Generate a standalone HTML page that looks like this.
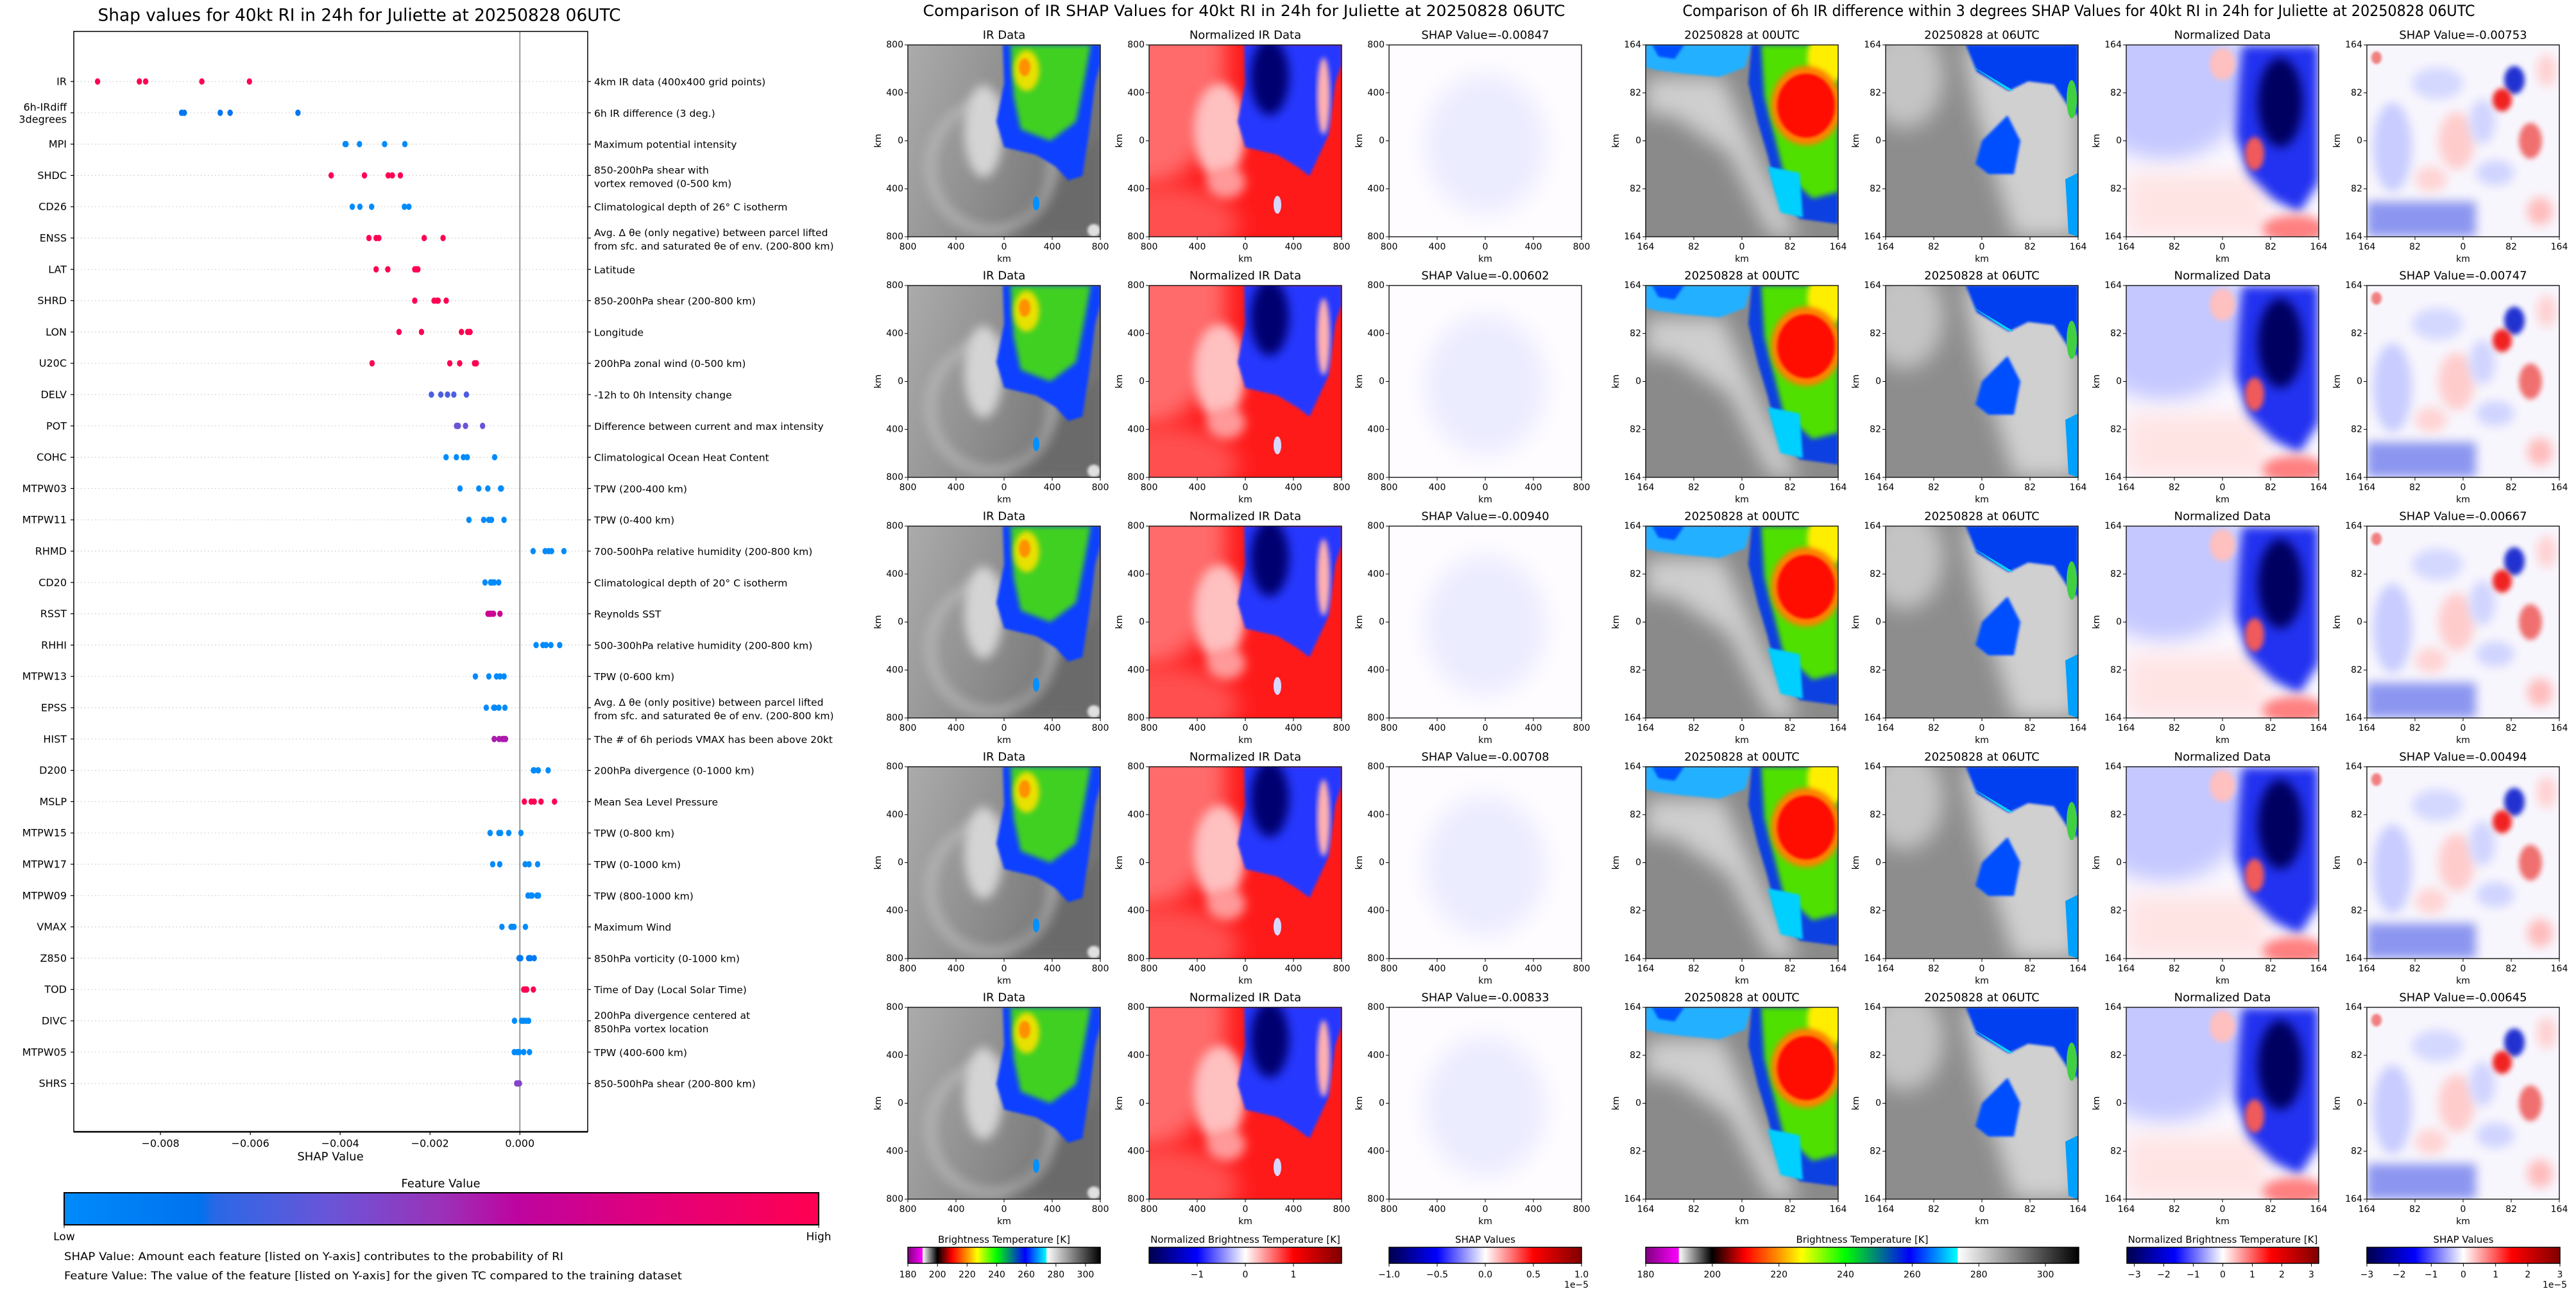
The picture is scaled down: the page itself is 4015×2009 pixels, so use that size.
<!DOCTYPE html>
<html><head><meta charset="utf-8">
<style>
body{margin:0;background:#fff}
svg{display:block;font-family:"DejaVu Sans","Liberation Sans",sans-serif}
</style></head>
<body>
<svg id="fig" width="4015" height="2009" viewBox="0 0 4015 2009" xmlns="http://www.w3.org/2000/svg">
<defs>
  <filter id="b2" x="-20%" y="-20%" width="140%" height="140%"><feGaussianBlur stdDeviation="2"/></filter>
  <filter id="b4" x="-20%" y="-20%" width="140%" height="140%"><feGaussianBlur stdDeviation="4"/></filter>
  <filter id="b8" x="-30%" y="-30%" width="160%" height="160%"><feGaussianBlur stdDeviation="8"/></filter>
  <filter id="b16" x="-50%" y="-50%" width="200%" height="200%"><feGaussianBlur stdDeviation="16"/></filter>
  <linearGradient id="gShapCmap" x1="0" x2="1" y1="0" y2="0">
    <stop offset="0" stop-color="#008bfb"/><stop offset="0.18" stop-color="#0072ee"/>
    <stop offset="0.2" stop-color="#2a68e6"/><stop offset="0.35" stop-color="#6a55d8"/>
    <stop offset="0.5" stop-color="#9a32b8"/><stop offset="0.6" stop-color="#be04a0"/>
    <stop offset="0.78" stop-color="#e2007a"/><stop offset="1" stop-color="#ff0052"/>
  </linearGradient>
  <linearGradient id="gBT" x1="0" x2="1" y1="0" y2="0">
    <stop offset="0" stop-color="#800080"/><stop offset="0.076" stop-color="#ff00ff"/>
    <stop offset="0.077" stop-color="#ffffff"/><stop offset="0.153" stop-color="#000000"/>
    <stop offset="0.23" stop-color="#ff0000"/><stop offset="0.31" stop-color="#ff9900"/>
    <stop offset="0.36" stop-color="#ffff00"/><stop offset="0.46" stop-color="#00ff00"/>
    <stop offset="0.61" stop-color="#0000ff"/><stop offset="0.72" stop-color="#00ffff"/>
    <stop offset="0.721" stop-color="#ffffff"/><stop offset="1" stop-color="#000000"/>
  </linearGradient>
  <linearGradient id="gSeis" x1="0" x2="1" y1="0" y2="0">
    <stop offset="0" stop-color="#00004c"/><stop offset="0.25" stop-color="#0000ff"/>
    <stop offset="0.5" stop-color="#ffffff"/><stop offset="0.75" stop-color="#ff0000"/>
    <stop offset="1" stop-color="#800000"/>
  </linearGradient>
  <linearGradient id="gIRbg" x1="0" x2="1" y1="0" y2="0.3">
    <stop offset="0" stop-color="#ababab"/><stop offset="0.5" stop-color="#909090"/><stop offset="1" stop-color="#747474"/>
  </linearGradient>

  <symbol id="img-ir" viewBox="0 0 300 300" preserveAspectRatio="none">
    <rect width="300" height="300" fill="url(#gIRbg)"/>
    <polygon points="150,300 300,140 300,300" fill="#6a6a6a" filter="url(#b8)"/>
    <ellipse cx="130" cy="190" rx="95" ry="100" fill="none" stroke="#c4c4c4" stroke-width="18" opacity="0.5" filter="url(#b8)"/>
    <ellipse cx="118" cy="135" rx="30" ry="72" fill="#d4d4d4" filter="url(#b8)"/>
    <polygon points="148,0 300,0 300,30 292,60 282,140 272,205 250,212 230,190 200,172 150,160 138,120 150,60" fill="#1040ff" filter="url(#b2)"/>
    <polygon points="160,0 285,0 276,50 262,120 222,150 176,132 165,80" fill="#40d020" filter="url(#b4)"/>
    <ellipse cx="185" cy="40" rx="20" ry="32" fill="#e8e000" filter="url(#b4)"/>
    <ellipse cx="182" cy="35" rx="9" ry="14" fill="#ff9000" filter="url(#b2)"/>
    <ellipse cx="200" cy="248" rx="5" ry="11" fill="#0090ff"/>
    <ellipse cx="290" cy="290" rx="10" ry="10" fill="#e0e0e0" filter="url(#b2)"/>
  </symbol>

  <symbol id="img-norm" viewBox="0 0 300 300" preserveAspectRatio="none">
    <rect width="300" height="300" fill="#ff1a1a"/>
    <ellipse cx="0" cy="20" rx="120" ry="200" fill="#ff6a6a" filter="url(#b16)"/>
    <ellipse cx="20" cy="280" rx="120" ry="60" fill="#ff5050" filter="url(#b16)"/>
    <ellipse cx="110" cy="135" rx="40" ry="75" fill="#ffc0c0" filter="url(#b8)"/>
    <ellipse cx="120" cy="215" rx="30" ry="25" fill="#ff9a9a" filter="url(#b8)"/>
    <polygon points="148,0 300,0 300,30 290,60 280,140 250,205 230,190 200,172 150,160 138,120 150,60" fill="#2838ff" filter="url(#b2)"/>
    <ellipse cx="188" cy="50" rx="30" ry="60" fill="#000070" filter="url(#b8)"/>
    <ellipse cx="272" cy="80" rx="10" ry="60" fill="#ffb0b0" filter="url(#b4)"/>
    <ellipse cx="200" cy="250" rx="6" ry="14" fill="#d8d8ff"/>
  </symbol>

  <symbol id="img-shap" viewBox="0 0 300 300" preserveAspectRatio="none">
    <rect width="300" height="300" fill="#fefcff"/>
    <ellipse cx="150" cy="155" rx="95" ry="110" fill="#ececff" filter="url(#b16)"/>
  </symbol>

  <symbol id="img-d00" viewBox="0 0 300 300" preserveAspectRatio="none">
    <rect width="300" height="300" fill="#8a8a8a"/>
    <polygon points="0,50 120,50 185,200 240,300 195,300 130,170 40,110 0,110" fill="#cfcfcf" filter="url(#b16)"/>
    <polygon points="0,0 165,0 155,35 115,50 60,45 20,40 0,35" fill="#20b0ff" filter="url(#b2)"/>
    <polygon points="10,0 60,0 45,22 20,18" fill="#0050ff" filter="url(#b2)"/>
    <polygon points="165,0 300,0 300,280 240,272 205,232 190,172 175,122 160,60" fill="#1040e0" filter="url(#b2)"/>
    <polygon points="180,0 300,0 300,230 260,240 215,200 200,140 185,80" fill="#50e000" filter="url(#b4)"/>
    <polygon points="190,190 240,200 245,270 210,262" fill="#00d0ff" filter="url(#b2)"/>
    <ellipse cx="282" cy="20" rx="30" ry="42" fill="#ffee00" filter="url(#b4)"/>
    <ellipse cx="250" cy="95" rx="55" ry="62" fill="#ff8000" filter="url(#b4)"/>
    <ellipse cx="250" cy="95" rx="45" ry="50" fill="#ff1000" filter="url(#b2)"/>
  </symbol>

  <symbol id="img-d06" viewBox="0 0 300 300" preserveAspectRatio="none">
    <rect width="300" height="300" fill="#8d8d8d"/>
    <polygon points="120,0 300,0 300,300 200,300 170,200 140,100" fill="#d0d0d0" filter="url(#b16)"/>
    <ellipse cx="30" cy="50" rx="60" ry="80" fill="#c4c4c4" filter="url(#b16)"/>
    <polygon points="125,0 300,0 300,112 282,92 262,62 222,57 192,72 142,42" fill="#0040f0" filter="url(#b2)"/>
    <polygon points="130,30 190,70 200,72 180,60" fill="#00e0ff"/>
    <ellipse cx="290" cy="85" rx="8" ry="30" fill="#40d040"/>
    <polygon points="150,150 190,110 210,150 200,202 160,202 140,186" fill="#0050ff" filter="url(#b2)"/>
    <polygon points="280,210 300,200 300,300 285,295" fill="#00a0ff"/>
  </symbol>

  <symbol id="img-n" viewBox="0 0 300 300" preserveAspectRatio="none">
    <rect width="300" height="300" fill="#fbf8ff"/>
    <ellipse cx="60" cy="60" rx="130" ry="120" fill="#c4c8ff" filter="url(#b16)"/>
    <rect x="0" y="200" width="220" height="100" fill="#ffe4e4" filter="url(#b16)"/>
    <polygon points="180,0 300,0 300,215 270,262 230,242 190,202 170,142 175,60" fill="#2030f0" filter="url(#b8)"/>
    <ellipse cx="240" cy="90" rx="35" ry="70" fill="#000060" filter="url(#b8)"/>
    <ellipse cx="200" cy="170" rx="15" ry="26" fill="#f05a5a" filter="url(#b4)"/>
    <ellipse cx="262" cy="288" rx="50" ry="22" fill="#ff8080" filter="url(#b8)"/>
    <ellipse cx="150" cy="30" rx="20" ry="25" fill="#ffc0c0" filter="url(#b4)"/>
  </symbol>

  <symbol id="img-s" viewBox="0 0 300 300" preserveAspectRatio="none">
    <rect width="300" height="300" fill="#f8f6fd"/>
    <rect x="0" y="245" width="170" height="55" fill="#8c96f0" filter="url(#b8)"/>
    <ellipse cx="40" cy="160" rx="30" ry="70" fill="#c8ccff" filter="url(#b8)"/>
    <ellipse cx="110" cy="60" rx="40" ry="25" fill="#d4d8ff" filter="url(#b8)"/>
    <ellipse cx="140" cy="150" rx="28" ry="45" fill="#ffcccc" filter="url(#b8)"/>
    <ellipse cx="100" cy="210" rx="25" ry="20" fill="#ffd4d4" filter="url(#b8)"/>
    <ellipse cx="180" cy="120" rx="20" ry="35" fill="#d0d4ff" filter="url(#b8)"/>
    <ellipse cx="230" cy="55" rx="16" ry="22" fill="#2030d0" filter="url(#b4)"/>
    <ellipse cx="211" cy="86" rx="15" ry="18" fill="#f02020" filter="url(#b4)"/>
    <ellipse cx="255" cy="150" rx="18" ry="28" fill="#f07070" filter="url(#b4)"/>
    <ellipse cx="200" cy="200" rx="30" ry="20" fill="#d0d4ff" filter="url(#b8)"/>
    <ellipse cx="270" cy="260" rx="20" ry="22" fill="#ffbcbc" filter="url(#b8)"/>
    <ellipse cx="280" cy="40" rx="15" ry="25" fill="#ffd0d0" filter="url(#b8)"/>
    <ellipse cx="15" cy="20" rx="8" ry="10" fill="#f08080" filter="url(#b2)"/>
  </symbol>
</defs>
</svg>
<script>
// ---------- beeswarm data ----------
const features = ["IR","6h-IRdiff\n3degrees","MPI","SHDC","CD26","ENSS","LAT","SHRD","LON","U20C","DELV","POT","COHC","MTPW03","MTPW11","RHMD","CD20","RSST","RHHI","MTPW13","EPSS","HIST","D200","MSLP","MTPW15","MTPW17","MTPW09","VMAX","Z850","TOD","DIVC","MTPW05","SHRS"];
const descriptions = ["4km IR data (400x400 grid points)","6h IR difference (3 deg.)","Maximum potential intensity","850-200hPa shear with\nvortex removed (0-500 km)","Climatological depth of 26° C isotherm","Avg. Δ θe (only negative) between parcel lifted\nfrom sfc. and saturated θe of env. (200-800 km)","Latitude","850-200hPa shear (200-800 km)","Longitude","200hPa zonal wind (0-500 km)","-12h to 0h Intensity change","Difference between current and max intensity","Climatological Ocean Heat Content","TPW (200-400 km)","TPW (0-400 km)","700-500hPa relative humidity (200-800 km)","Climatological depth of 20° C isotherm","Reynolds SST","500-300hPa relative humidity (200-800 km)","TPW (0-600 km)","Avg. Δ θe (only positive) between parcel lifted\nfrom sfc. and saturated θe of env. (200-800 km)","The # of 6h periods VMAX has been above 20kt","200hPa divergence (0-1000 km)","Mean Sea Level Pressure","TPW (0-800 km)","TPW (0-1000 km)","TPW (800-1000 km)","Maximum Wind","850hPa vorticity (0-1000 km)","Time of Day (Local Solar Time)","200hPa divergence centered at\n850hPa vortex location","TPW (400-600 km)","850-500hPa shear (200-800 km)"];
const featureValue = [1,0.15,0,1,0,1,1,1,1,1,0.28,0.36,0,0,0,0,0,0.66,0,0,0,0.55,0,1,0,0,0,0,0.12,1,0,0,0.42];
const irShap = [-0.00847,-0.00602,-0.00940,-0.00708,-0.00833];
const diffShap = [-0.00753,-0.00747,-0.00667,-0.00494,-0.00645];
const shapVals = [
  irShap, diffShap,
  [-0.00389,-0.00387,-0.00357,-0.00301,-0.00256],
  [-0.0042,-0.00346,-0.00293,-0.00284,-0.00266],
  [-0.00373,-0.00356,-0.0033,-0.00257,-0.00247],
  [-0.00336,-0.0032,-0.00314,-0.00213,-0.00171],
  [-0.0032,-0.00294,-0.00234,-0.0023,-0.00227],
  [-0.00234,-0.00191,-0.00184,-0.00182,-0.00164],
  [-0.00269,-0.00219,-0.0013,-0.00116,-0.00111],
  [-0.00329,-0.00156,-0.00134,-0.00101,-0.00097],
  [-0.00197,-0.00176,-0.00161,-0.00147,-0.00119],
  [-0.00141,-0.00139,-0.00137,-0.00121,-0.00083],
  [-0.001643,-0.001414,-0.001257,-0.001171,-0.000562],
  [-0.001333,-0.000914,-0.000714,-0.000429,-0.000414],
  [-0.001133,-0.000805,-0.00069,-0.000633,-0.000352],
  [0.000295,0.000562,0.000638,0.000705,0.000981],
  [-0.000776,-0.000652,-0.000619,-0.000571,-0.000471],
  [-0.00071,-0.000667,-0.000633,-0.000586,-0.000443],
  [0.000362,0.000514,0.000581,0.00069,0.000886],
  [-0.00099,-0.00069,-0.000519,-0.000443,-0.000352],
  [-0.000748,-0.000581,-0.000557,-0.000467,-0.000333],
  [-0.000571,-0.000462,-0.000386,-0.000352,-0.000319],
  [0.0003,0.000319,0.000405,0.00041,0.000629],
  [0.0001,0.000252,0.000319,0.000471,0.000771],
  [-0.000662,-0.000467,-0.000429,-0.000248,0.000024],
  [-0.000605,-0.000448,0.000119,0.000205,0.000395],
  [0.000181,0.000248,0.000271,0.000381,0.000414],
  [-0.0004,-0.000195,-0.00017,-0.000129,0.000124],
  [-0.000019,0.000019,0.000195,0.000233,0.000319],
  [0.000086,0.00011,0.000133,0.000152,0.0003],
  [-0.000119,0.000038,0.000086,0.000143,0.000195],
  [-0.000124,-0.000057,-0.000014,0.000086,0.000214],
  [-0.000071,-0.000048,-0.000038,-0.000024,-0.00001]
];
const xTicks = [-0.008,-0.006,-0.004,-0.002,0.000];
const xDomain = [-0.00993, 0.00151];
// ---------- image panel data ----------
const kmTicksIR = ["800","400","0","400","800"];
const kmTicksDiff = ["164","82","0","82","164"];
const btTicks = [180,200,220,240,260,280,300];
const btRange = [180,310];
const normTicksIR = [-1,0,1];
const normRangeIR = [-2,2];
const shapTicksIR = ["-1.0","-0.5","0.0","0.5","1.0"];
const normTicksDiff = [-3,-2,-1,0,1,2,3];
const normRangeDiff = [-3.25,3.25];
const shapTicksDiff = [-3,-2,-1,0,1,2,3];

const NS = "http://www.w3.org/2000/svg";
const fig = document.getElementById("fig");
function el(tag, attrs, parent){
  const e = document.createElementNS(NS, tag);
  for (const k in attrs) e.setAttribute(k, attrs[k]);
  (parent||fig).appendChild(e);
  return e;
}
function txt(s, x, y, size, anchor, parent, extra){
  const t = el("text", Object.assign({x:x, y:y, "font-size":size, "text-anchor":anchor||"start", "dominant-baseline":"central", fill:"#000"}, extra||{}), parent);
  t.textContent = s;
  return t;
}
function cmapColor(v){
  const stops=[[0,[0,139,251]],[0.18,[0,114,238]],[0.2,[42,104,230]],[0.35,[106,85,216]],[0.5,[154,50,184]],[0.6,[190,4,160]],[0.78,[226,0,122]],[1,[255,0,82]]];
  for(let i=1;i<stops.length;i++){ if(v<=stops[i][0]){ const a=stops[i-1],b=stops[i]; const f=(v-a[0])/(b[0]-a[0]); return "rgb("+a[1].map((c,j)=>Math.round(c+(b[1][j]-c)*f)).join(",")+")"; } }
  return "rgb(255,0,82)";
}

// ---------- beeswarm ----------
const AX = {l:115, r:916, t:49, b:1764};
const xs = v => AX.l + (v - xDomain[0])/(xDomain[1]-xDomain[0])*(AX.r-AX.l);
const ys = i => 127 + i*48.8;
const sg = el("g", {});


const st = txt("Shap values for 40kt RI in 24h for Juliette at 20250828 06UTC", 560, 24, 27, "middle", sg, {textLength:815, lengthAdjust:"spacingAndGlyphs"});


features.forEach((f,i)=>{
  const y = ys(i);
  const gl = el("line", {x1:AX.l, x2:AX.r, y1:y, y2:y, stroke:"#c8c8c8", "stroke-width":1.2, "stroke-dasharray":"1.5,4"}, sg);
  
  
  el("line", {x1:AX.l-5, x2:AX.l, y1:y, y2:y, stroke:"#000", "stroke-width":1.2}, sg);
  el("line", {x1:AX.r, x2:AX.r+5, y1:y, y2:y, stroke:"#000", "stroke-width":1.2}, sg);
  const lines = f.split("\n");
  lines.forEach((ln,k)=>{
    const lt = txt(ln, 104, lines.length>1 ? y-9+k*19 : y, 16, "end", sg);
    
    
  });
  const dl = descriptions[i].split("\n");
  dl.forEach((ln,k)=>{
    const dt = txt(ln, 926, dl.length>1 ? y-8+k*21 : y+1, 15.5, "start", sg);
    
    
  });
});
const zl = el("line", {x1:xs(0), x2:xs(0), y1:AX.t, y2:AX.b, stroke:"#999", "stroke-width":2}, sg);


shapVals.forEach((vals,i)=>{
  vals.forEach(v=>{
    const c = el("ellipse", {cx:xs(v), cy:ys(i), rx:4.2, ry:5, fill:cmapColor(featureValue[i])}, sg);
    
    
  });
});
const frame = el("rect", {x:AX.l, y:AX.t, width:AX.r-AX.l, height:AX.b-AX.t, fill:"none", stroke:"#000", "stroke-width":1.5}, sg);


el("line", {x1:AX.l, x2:AX.r, y1:AX.b, y2:AX.b, stroke:"#000", "stroke-width":2.5}, sg);
xTicks.forEach(t=>{
  const x = xs(t);
  el("line", {x1:x, x2:x, y1:AX.b, y2:AX.b+5, stroke:"#000", "stroke-width":1.2}, sg);
  const tl = txt((t<0?"\u2212":"")+Math.abs(t).toFixed(3), x, 1782, 16, "middle", sg);
  
  
});
const xl = txt("SHAP Value", 515, 1803, 18, "middle", sg);


const cbt = txt("Feature Value", 687, 1845, 18, "middle", sg);


const cb = el("rect", {x:100, y:1859, width:1176, height:50, fill:"url(#gShapCmap)", stroke:"#000", "stroke-width":2}, sg);


el("line", {x1:100, x2:100, y1:1909, y2:1914, stroke:"#000"}, sg);
el("line", {x1:1276, x2:1276, y1:1909, y2:1914, stroke:"#000"}, sg);
const lo = txt("Low", 100, 1928, 17, "middle", sg);


const hi = txt("High", 1276, 1928, 17, "middle", sg);


const n1 = txt("SHAP Value: Amount each feature [listed on Y-axis] contributes to the probability of RI", 100, 1959, 17, "start", sg, {textLength:778, lengthAdjust:"spacingAndGlyphs"});


const n2 = txt("Feature Value: The value of the feature [listed on Y-axis] for the given TC compared to the training dataset", 100, 1989, 17, "start", sg, {textLength:963, lengthAdjust:"spacingAndGlyphs"});



// ---------- image panels ----------
const PW = 300, PH = 299;
const g1cols = [1415, 1791, 2165];
const g2cols = [2565, 2939, 3314, 3689];
const rowTop = r => 70 + 375*r;
function panel(x, y, sym, title, ticks, name){
  const g = el("g", {});
  
  
  el("use", {href:"#"+sym, x:x, y:y, width:PW, height:PH}, g);
  el("rect", {x:x, y:y, width:PW, height:PH, fill:"none", stroke:"#000", "stroke-width":1.3}, g);
  const tt = txt(title, x+PW/2, y-15, 18, "middle", g);
  
  
  ticks.forEach((t,k)=>{
    const tx = x + k*PW/4, ty = y + k*PH/4;
    el("line", {x1:tx, x2:tx, y1:y+PH, y2:y+PH+5, stroke:"#000"}, g);
    el("line", {x1:x-5, x2:x, y1:ty, y2:ty, stroke:"#000"}, g);
    const a = txt(t, tx, y+PH+16, 14, "middle", g);
    
    
    const b = txt(t, x-7, ty, 14, "end", g);
    
    
  });
  const xk = txt("km", x+PW/2, y+PH+35, 14, "middle", g);
  
  
  const yk = txt("km", x-46, y+PH/2, 14, "middle", g, {transform:"rotate(-90 "+(x-46)+" "+(y+PH/2)+")"});
  
  
}
const h1 = txt("Comparison of IR SHAP Values for 40kt RI in 24h for Juliette at 20250828 06UTC", 1939, 17, 24, "middle", fig, {textLength:1001, lengthAdjust:"spacingAndGlyphs"});


const h2 = txt("Comparison of 6h IR difference within 3 degrees SHAP Values for 40kt RI in 24h for Juliette at 20250828 06UTC", 3240, 17, 24, "middle", fig, {textLength:1235, lengthAdjust:"spacingAndGlyphs"});


for (let r=0; r<5; r++){
  const y = rowTop(r);
  panel(g1cols[0], y, "img-ir", "IR Data", kmTicksIR, "ir-data-panel");
  panel(g1cols[1], y, "img-norm", "Normalized IR Data", kmTicksIR, "normalized-ir-panel");
  panel(g1cols[2], y, "img-shap", "SHAP Value=" + irShap[r].toFixed(5), kmTicksIR, "ir-shap-panel");
  panel(g2cols[0], y, "img-d00", "20250828 at 00UTC", kmTicksDiff, "ir-00utc-panel");
  panel(g2cols[1], y, "img-d06", "20250828 at 06UTC", kmTicksDiff, "ir-06utc-panel");
  panel(g2cols[2], y, "img-n", "Normalized Data", kmTicksDiff, "normalized-diff-panel");
  panel(g2cols[3], y, "img-s", "SHAP Value=" + diffShap[r].toFixed(5), kmTicksDiff, "diff-shap-panel");
}

// ---------- colorbars ----------
function colorbar(x, w, grad, title, ticks, range, labels, name, offset){
  const g = el("g", {});
  
  
  const ct = txt(title, x+w/2, 1932, 15, "middle", g);
  
  
  el("rect", {x:x, y:1944, width:w, height:25, fill:"url(#"+grad+")", stroke:"#000", "stroke-width":1.5}, g);
  ticks.forEach((t,k)=>{
    const tx = x + (t-range[0])/(range[1]-range[0])*w;
    el("line", {x1:tx, x2:tx, y1:1969, y2:1974, stroke:"#000"}, g);
    const lt = txt(labels ? labels[k] : String(t).replace("-","\u2212"), tx, 1987, 14, "middle", g);
    
    
  });
  if (offset){
    const o = txt("1e\u22125", x+w-8, 2003, 14, "middle", g);
    
    
  }
}
colorbar(g1cols[0], 300, "gBT", "Brightness Temperature [K]", btTicks, btRange, null, "bt-colorbar-ir", false);
colorbar(g1cols[1], 300, "gSeis", "Normalized Brightness Temperature [K]", normTicksIR, normRangeIR, null, "norm-colorbar-ir", false);
colorbar(g1cols[2], 300, "gSeis", "SHAP Values", [-1,-0.5,0,0.5,1], [-1,1], shapTicksIR.map(s=>s.replace("-","\u2212")), "shap-colorbar-ir", true);
colorbar(2565, 675, "gBT", "Brightness Temperature [K]", btTicks, btRange, null, "bt-colorbar-diff", false);
colorbar(3315, 299, "gSeis", "Normalized Brightness Temperature [K]", normTicksDiff, normRangeDiff, null, "norm-colorbar-diff", false);
colorbar(3689, 301, "gSeis", "SHAP Values", shapTicksDiff, [-3,3], null, "shap-colorbar-diff", true);
</script>
</body></html>
